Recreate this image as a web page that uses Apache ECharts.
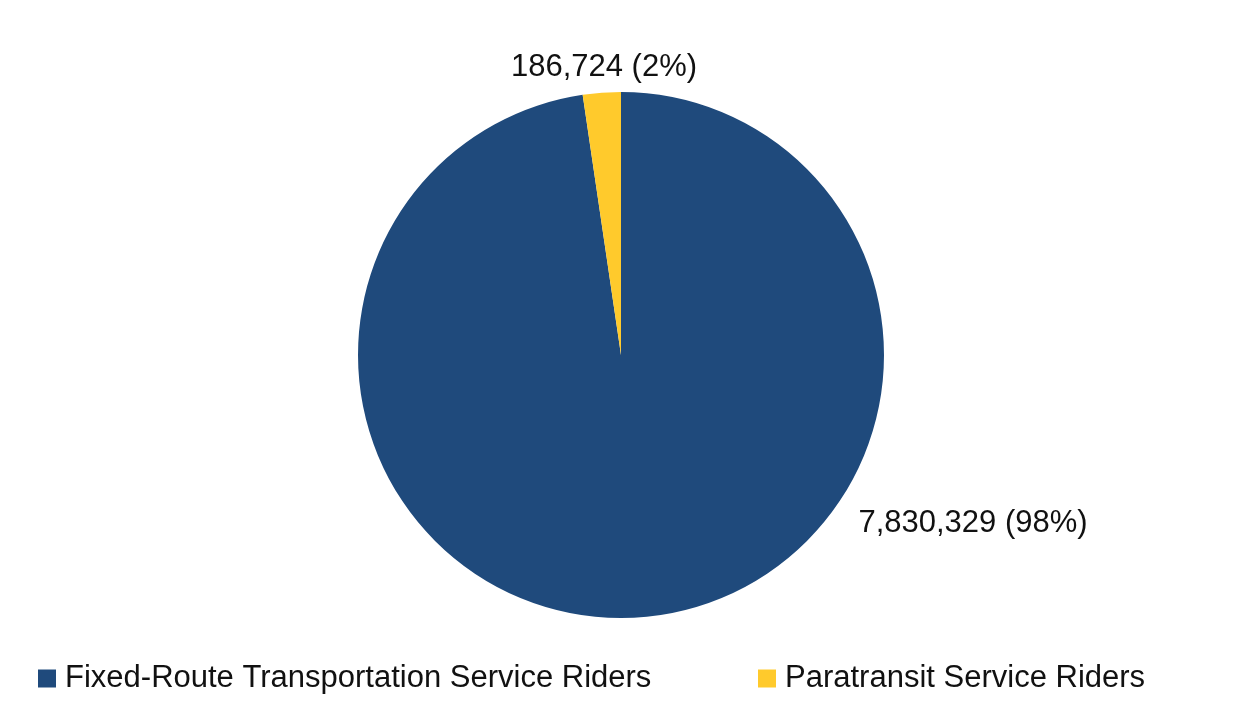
<!DOCTYPE html>
<html>
<head>
<meta charset="utf-8">
<script src="https://cdn.jsdelivr.net/npm/echarts@6/dist/echarts.min.js"></script>
<style>
  html, body { margin: 0; padding: 0; background: #fff; }
  #chart { width: 1240px; height: 717px; }
</style>
</head>
<body>
<div id="chart"></div>
<script>
  // rider counts
  const categories = ['Fixed-Route Transportation Service Riders', 'Paratransit Service Riders'];
  const riders = [7830329, 186724];
  const colors = ['#1F4A7C', '#FFCA2C'];

  const total = riders.reduce((a, b) => a + b, 0);
  const pieData = categories.map((name, i) => ({
    name: name,
    value: riders[i],
    itemStyle: { color: colors[i] }
  }));

  // label spots, same as the original layout
  const labelSpots = [
    { x: 973, y: 523 },
    { x: 604, y: 67 }
  ];

  const chart = echarts.init(document.getElementById('chart'));
  chart.setOption({
    animation: false,
    textStyle: { fontFamily: 'Liberation Sans, Arial, sans-serif' },
    legend: [
      {
        data: [categories[0]],
        left: 33, top: 658,
        icon: 'rect', itemWidth: 18, itemHeight: 18, itemGap: 0,
        textStyle: { fontSize: 31, color: '#111', padding: [0, 0, 0, 4] }
      },
      {
        data: [categories[1]],
        left: 753, top: 658,
        icon: 'rect', itemWidth: 18, itemHeight: 18, itemGap: 0,
        textStyle: { fontSize: 31, color: '#111', padding: [0, 0, 0, 4] }
      }
    ],
    series: [{
      type: 'pie',
      center: [621, 355],
      radius: [0, 263],
      startAngle: 90,
      clockwise: true,
      data: pieData,
      label: {
        show: true,
        fontSize: 31,
        color: '#111',
        formatter: (p) => p.value.toLocaleString('en-US') + ' (' + Math.round(p.value / total * 100) + '%)'
      },
      labelLine: { show: false },
      labelLayout: (params) => ({
        x: labelSpots[params.dataIndex].x,
        y: labelSpots[params.dataIndex].y,
        align: 'center',
        verticalAlign: 'middle'
      }),
      emphasis: { disabled: true }
    }]
  });
</script>
</body>
</html>
